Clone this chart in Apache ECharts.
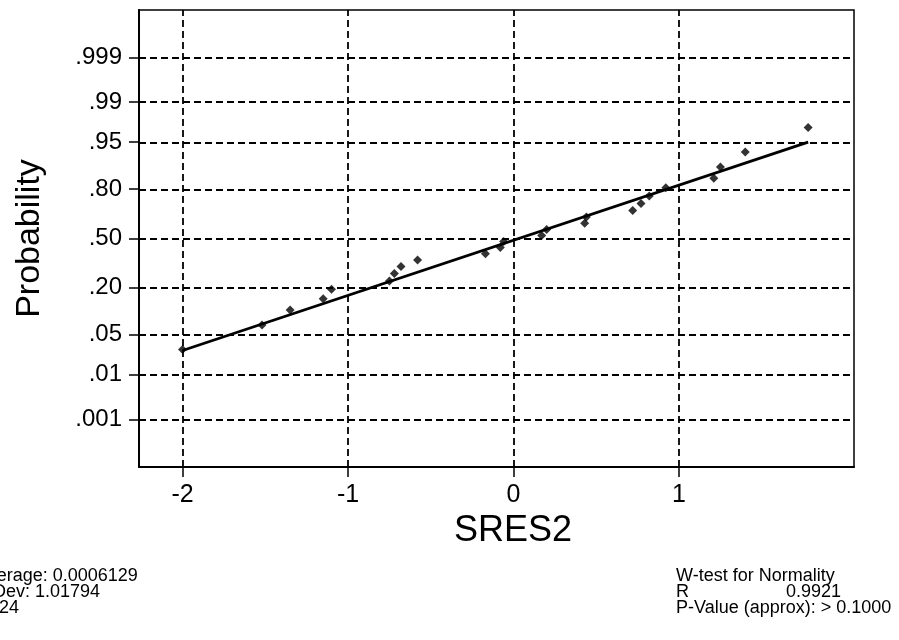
<!DOCTYPE html>
<html><head><meta charset="utf-8">
<script src="https://cdn.jsdelivr.net/npm/echarts@6/dist/echarts.min.js"></script>
<style>html,body{margin:0;padding:0;background:#fff}#c{width:899px;height:640px}</style>
</head><body><div id="c"></div>
<script>
// ---- data ----
const xTicks = [-2, -1, 0, 1];
const probTicks = [0.001, 0.01, 0.05, 0.20, 0.50, 0.80, 0.95, 0.99, 0.999];
const probTickLabels = ['.001', '.01', '.05', '.20', '.50', '.80', '.95', '.99', '.999'];
const sres2 = [-2.00, -1.52, -1.35, -1.15, -1.10, -0.75, -0.72, -0.68, -0.58, -0.17, -0.08, -0.06,
               0.17, 0.20, 0.43, 0.44, 0.72, 0.77, 0.82, 0.92, 1.21, 1.25, 1.40, 1.78];
const probs = [0.029, 0.070, 0.111, 0.152, 0.193, 0.234, 0.275, 0.316, 0.357, 0.398, 0.439, 0.480,
               0.520, 0.561, 0.602, 0.643, 0.684, 0.725, 0.766, 0.807, 0.848, 0.889, 0.930, 0.971];
const fitX = [-2.00, 1.78];
const fitP = [0.028, 0.950];
const statsLeft = ['Average: 0.0006129', 'StDev: 1.01794', 'N: 24'];
const statsRightTitle = 'W-test for Normality';
const statsRightR = ['R', '0.9921'];
const statsRightP = 'P-Value (approx): > 0.1000';

// inverse standard normal CDF (Acklam) -> probability scale
function probit(p) {
  const a = [-3.969683028665376e+01, 2.209460984245205e+02, -2.759285104469687e+02, 1.383577518672690e+02, -3.066479806614716e+01, 2.506628277459239e+00];
  const b = [-5.447609879822406e+01, 1.615858368580409e+02, -1.556989798598866e+02, 6.680131188771972e+01, -1.328068155288572e+01];
  const c = [-7.784894002430293e-03, -3.223964580411365e-01, -2.400758277161838e+00, -2.549732539343734e+00, 4.374664141464968e+00, 2.938163982698783e+00];
  const d = [7.784695709041462e-03, 3.224671290700398e-01, 2.445134137142996e+00, 3.754408661907416e+00];
  const pl = 0.02425, ph = 1 - pl;
  let q, r;
  if (p < pl) { q = Math.sqrt(-2 * Math.log(p)); return (((((c[0]*q+c[1])*q+c[2])*q+c[3])*q+c[4])*q+c[5]) / ((((d[0]*q+d[1])*q+d[2])*q+d[3])*q+1); }
  if (p <= ph) { q = p - 0.5; r = q*q; return (((((a[0]*r+a[1])*r+a[2])*r+a[3])*r+a[4])*r+a[5])*q / (((((b[0]*r+b[1])*r+b[2])*r+b[3])*r+b[4])*r+1); }
  q = Math.sqrt(-2 * Math.log(1 - p)); return -(((((c[0]*q+c[1])*q+c[2])*q+c[3])*q+c[4])*q+c[5]) / ((((d[0]*q+d[1])*q+d[2])*q+d[3])*q+1);
}

const zTicks = probTicks.map(probit);
const points = sres2.map((x, i) => [x, probit(probs[i])]);
const fitLine = fitX.map((x, i) => [x, probit(fitP[i])]);

const FONT = '"Liberation Sans", Arial, sans-serif';
const dash = { color: '#000', type: [7, 4], width: 1.8 };

const chart = echarts.init(document.getElementById('c'), null, { renderer: 'canvas' });
chart.setOption({
  animation: false,
  backgroundColor: '#fff',
  grid: { left: 139, top: 10, width: 715, height: 457, show: true, borderColor: '#000', borderWidth: 1.5, containLabel: false },
  xAxis: {
    type: 'value', min: -2.263, max: 2.057,
    name: 'SRES2', nameLocation: 'middle', nameGap: 44,
    nameTextStyle: { fontFamily: FONT, fontSize: 36, color: '#000', padding: [0, 0, 0, 33] },
    axisLine: { show: true, onZero: false, lineStyle: { color: '#000', width: 2 } },
    axisTick: { show: true, inside: false, length: 10, customValues: xTicks, lineStyle: { color: '#000', width: 1.5 } },
    axisLabel: { customValues: xTicks, margin: 16, fontFamily: FONT, fontSize: 25, color: '#000' },
    splitLine: { show: false }
  },
  yAxis: {
    type: 'value', min: -3.9, max: 3.9,
    name: 'Probability', nameLocation: 'middle', nameGap: 92, nameRotate: 90,
    nameTextStyle: { fontFamily: FONT, fontSize: 34, color: '#000' },
    axisLine: { show: true, onZero: false, lineStyle: { color: '#000', width: 2 } },
    axisTick: { show: true, inside: false, length: 10, customValues: zTicks, lineStyle: { color: '#000', width: 1.5 } },
    axisLabel: {
      customValues: zTicks, margin: 17, fontFamily: FONT, fontSize: 24, color: '#000',
      formatter: v => { let k = 0, best = 1e9; zTicks.forEach((z, i) => { const dd = Math.abs(z - v); if (dd < best) { best = dd; k = i; } }); return probTickLabels[k]; }
    },
    splitLine: { show: false }
  },
  series: [
    {
      type: 'line', data: [], silent: true,
      markLine: {
        silent: true, symbol: ['none', 'none'], label: { show: false },
        lineStyle: dash,
        data: zTicks.map(z => ({ yAxis: z })).concat(xTicks.map(x => ({ xAxis: x })))
      }
    },
    {
      type: 'line', data: fitLine, showSymbol: false, symbol: 'none',
      lineStyle: { color: '#000', width: 2.8 }, z: 3
    },
    {
      type: 'scatter', data: points, symbol: 'diamond', symbolSize: 9,
      itemStyle: { color: '#000' }, z: 4
    }
  ],
  graphic: [
    { type: 'text', left: -24, top: 567, style: { text: statsLeft.join('\n'), fontFamily: FONT, fontSize: 18, lineHeight: 16, fill: '#000' } },
    { type: 'text', left: 676, top: 567, style: { text: statsRightTitle, fontFamily: FONT, fontSize: 18, fill: '#000' } },
    { type: 'text', left: 676, top: 583, style: { text: statsRightR[0], fontFamily: FONT, fontSize: 18, fill: '#000' } },
    { type: 'text', left: 786, top: 583, style: { text: statsRightR[1], fontFamily: FONT, fontSize: 18, fill: '#000' } },
    { type: 'text', left: 676, top: 599, style: { text: statsRightP, fontFamily: FONT, fontSize: 18, fill: '#000' } }
  ]
});
</script></body></html>
